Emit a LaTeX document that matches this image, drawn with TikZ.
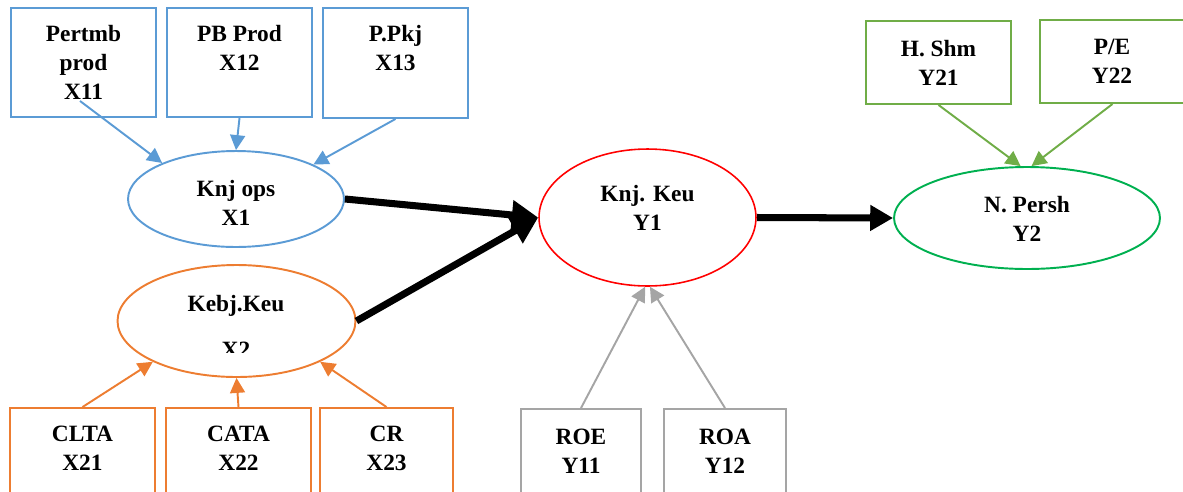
\documentclass[tikz,border=0pt]{standalone}
\usepackage{fontspec}
\setmainfont{Liberation Serif}
\usetikzlibrary{arrows.meta,fit,shapes.geometric,calc}
\definecolor{cblue}{HTML}{5B9BD5}
\definecolor{corange}{HTML}{ED7D31}
\definecolor{cgrey}{HTML}{A5A5A5}
\definecolor{cgreen}{HTML}{70AD47}
\definecolor{cgreenE}{HTML}{00B050}
\definecolor{cred}{HTML}{FF0000}
\begin{document}
\begin{tikzpicture}[x=0.02cm,y=-0.02cm,
  txt/.style={font=\bfseries\fontsize{13.3}{16.4}\selectfont, align=center, inner sep=0pt, text=black},
  box/.style={draw, rectangle, inner sep=0pt, line width=1.1pt},
  oval/.style={draw, ellipse, inner sep=0pt, line width=1.1pt},
  thinarr/.style={line width=1.1pt, -{Triangle[length=8.5pt,width=8.5pt]}},
  bigarr/.style={line width=4pt, -{Triangle[length=15pt,width=16pt]}},
  bigarrb/.style={line width=4pt, -{Triangle[length=13pt,width=14pt]}}]
\path[use as bounding box] (0,0) rectangle (1183,491);
\clip (0,0) rectangle (1183,491);

% blue group
\node[box, draw=cblue, fit={(11,8) (156,117)}] (x11) {};
\node[box, draw=cblue, fit={(167,8) (312,117)}] (x12) {};
\node[box, draw=cblue, fit={(323,8) (468,118)}] (x13) {};
\node[txt] (t11) at (83.5,62.5) {Pertmb\\prod\\X11};
\node[txt] (t12) at (239.5,48) {PB Prod\\X12};
\node[txt] (t13) at (395.5,48) {P.Pkj\\X13};
\node[oval, draw=cblue, minimum width=4.32cm, minimum height=1.92cm] (x1) at (236,199) {};
\node[txt] (tx1) at (236,202.5) {Knj ops\\X1};

% orange group
\node[oval, draw=corange, minimum width=4.76cm, minimum height=2.24cm] (x2) at (236.5,321) {};
\begin{scope}
  \clip (110,260) rectangle (370,352.3);
  \node[txt] (tx2) at (236,326.3) {Kebj.Keu\\[10pt]X2};
\end{scope}
\node[box, draw=corange, fit={(10,408) (155,500)}] (clta) {};
\node[box, draw=corange, fit={(166,408) (311,500)}] (cata) {};
\node[box, draw=corange, fit={(320,408) (453,500)}] (cr) {};
\node[txt] (t21) at (82.5,448) {CLTA\\X21};
\node[txt] (t22) at (238.5,448) {CATA\\X22};
\node[txt] (t23) at (386.5,448) {CR\\X23};

% red / grey group
\node[oval, draw=cred, line width=0.9pt, minimum width=4.34cm, minimum height=2.74cm] (y1) at (647.5,217.5) {};
\node[txt] (ty1) at (647.5,208) {Knj. Keu\\Y1};
\node[box, draw=cgrey, fit={(521,409) (641,500)}] (roe) {};
\node[box, draw=cgrey, fit={(664,409) (786,500)}] (roa) {};
\node[txt] (t11y) at (581,451) {ROE\\Y11};
\node[txt] (t12y) at (725,451) {ROA\\Y12};

% green group
\node[box, draw=cgreen, fit={(866,21) (1011,104)}] (hshm) {};
\node[box, draw=cgreen, fit={(1040,20) (1185,103)}] (pe) {};
\node[txt] (t21y) at (938.5,62.5) {H. Shm\\Y21};
\node[txt] (t22y) at (1112,61.5) {P/E\\Y22};
\node[oval, draw=cgreenE, minimum width=5.32cm, minimum height=2.04cm] (y2) at (1027,218) {};
\node[txt] (ty2) at (1027,219) {N. Persh\\Y2};

% connectors
\draw[thinarr, cblue] ($(x11.south)+(-3.5,-17)$) -- (x1.154.7);
\draw[thinarr, cblue] (x12.south) -- (x1.north);
\draw[thinarr, cblue] (x13.south) -- (x1.24.5);

\draw[thinarr, corange] (clta.north) -- (x2.206);
\draw[thinarr, corange] (cata.north) -- (x2.south);
\draw[thinarr, corange] (cr.north) -- (x2.334.5);

\draw[thinarr, cgrey] (roe.north) -- (y1.268);
\draw[thinarr, cgrey] (roa.north) -- (y1.272);

\draw[thinarr, cgreen] (hshm.south) -- (y2.97);
\draw[thinarr, cgreen] (pe.south) -- (y2.85);

\draw[bigarr] (x1.east) -- (y1.west);
\draw[bigarr] (x2.east) -- (y1.west);
\draw[bigarrb] (y1.east) -- (y2.west);
\end{tikzpicture}
\end{document}
